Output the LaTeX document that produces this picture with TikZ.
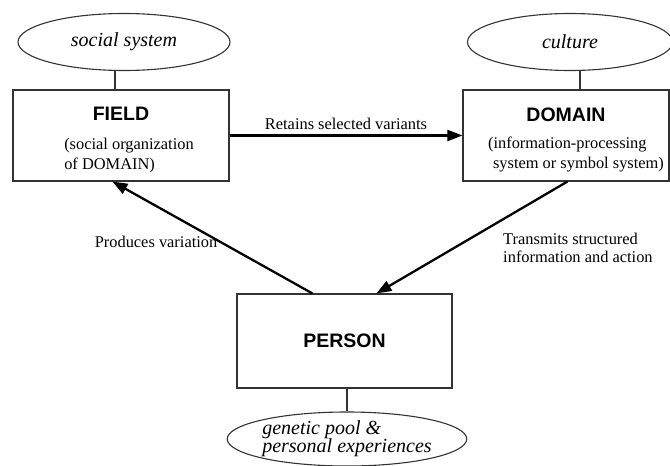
\documentclass[tikz,border=0pt]{standalone}
\usepackage{fontspec}
\setmainfont{Liberation Serif}
\setsansfont{Liberation Sans}
\usepackage{tikz}
\usetikzlibrary{arrows.meta,shapes.geometric,positioning}

\newcommand{\labelsize}{\fontsize{16.4}{19.7}\selectfont}
\newcommand{\titlesize}{\fontsize{19.5}{23}\selectfont\sffamily\bfseries}
\newcommand{\ovalsize}{\fontsize{20}{18.3}\selectfont\itshape}

\begin{document}
\begin{tikzpicture}[x=1pt,y=-1pt,auto]
  \tikzstyle{system}=[rectangle,draw=black!80,line width=1.1pt,inner sep=0pt,
  			  align=center,font=\labelsize]
  \tikzstyle{context}=[ellipse,draw=black!80,line width=1.1pt,inner sep=0pt,
  			  font=\ovalsize]
  \tikzstyle{flow}=[line width=2.3pt,-{Triangle[length=15pt,width=11pt]}]

  \useasboundingbox (0,0) rectangle (670,466);

  \node[system,minimum width=216pt,minimum height=91pt] (field) at (121,135.5)
    {\rule{0pt}{25pt}{\titlesize FIELD}\\[14pt]\hspace*{16pt}\begin{tabular}{@{}l@{}}(social organization\\of DOMAIN)\end{tabular}};
  \node[system,minimum width=206pt,minimum height=91pt] (domain) at (566,135.5)
    {\rule{0pt}{25pt}{\titlesize DOMAIN}\\[12pt]\hspace*{20pt}\begin{tabular}{@{}l@{}}(information-processing\\\hspace*{5pt}system or symbol system)\end{tabular}};
  \node[system,minimum width=215pt,minimum height=94pt] (person) at (344.5,341)
    {{\titlesize PERSON}};

  \node[context,minimum width=212pt,minimum height=57pt] (social) at (124,42) {social system};
  \node[context,minimum width=205pt,minimum height=57pt] (culture) at (570,42) {culture};
  \node[context,minimum width=209pt,minimum height=54pt,align=left] (pool) at (347,439)
    {genetic pool \&\\personal experiences};

  \draw[black!80,line width=1.1pt] ([xshift=-9pt]social.south) -- ([xshift=-9pt]social.south |- field.north);
  \draw[black!80,line width=1.1pt] ([xshift=10pt]culture.south) -- ([xshift=10pt]culture.south |- domain.north);
  \draw[black!80,line width=1.1pt] (pool.north) -- (pool.north |- person.south);

  \path[flow] (field.east) edge node[font=\labelsize,inner sep=5pt] {Retains selected variants} (domain.west);
  \path[flow] ([xshift=76pt]person.north west) edge node[pos=0.46,font=\labelsize,anchor=east,inner sep=2pt] {Produces variation} ([xshift=100pt]field.south west);
  \path[flow] ([xshift=105pt]domain.south west) edge node[pos=0.59,font=\fontsize{16.4}{18}\selectfont,anchor=west,align=left,xshift=44pt] {Transmits structured\\information and action} ([xshift=140pt]person.north west);
\end{tikzpicture}
\end{document}
